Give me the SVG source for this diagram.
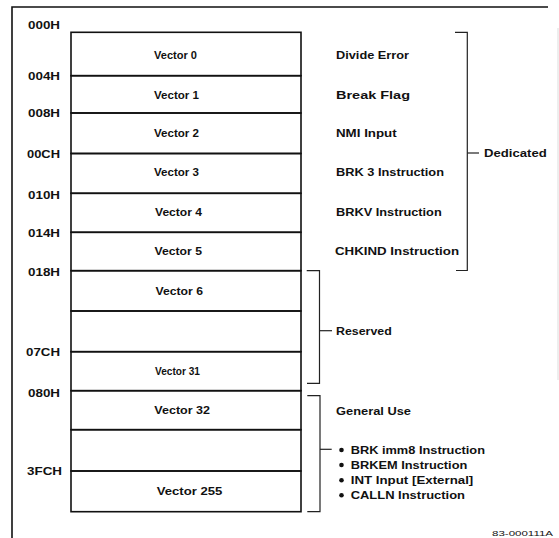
<svg xmlns="http://www.w3.org/2000/svg" width="559" height="538" viewBox="0 0 559 538">
<style>
text{font-family:"Liberation Sans",Arial,sans-serif;font-weight:bold;fill:#111;font-size:10.5px}
.addr{text-anchor:start}
.row{fill:none;stroke:#111;stroke-width:1.6}
.br{fill:none;stroke:#222;stroke-width:1.2}
.frame{fill:none;stroke:#111;stroke-width:1.6}
.id{font-weight:normal;font-size:8px}
</style>
<rect width="559" height="538" fill="#fff"/>
<g id="frame">
<polyline class="frame" points="12,538 12,7 548,7"/>
<line x1="558" y1="28" x2="558" y2="380" stroke="#ddd" stroke-width="1"/>
</g>
<g id="addresses">
<text x="28" y="29" textLength="32" lengthAdjust="spacingAndGlyphs">000H</text>
<text x="28" y="79.5" textLength="32" lengthAdjust="spacingAndGlyphs">004H</text>
<text x="28" y="117" textLength="32" lengthAdjust="spacingAndGlyphs">008H</text>
<text x="27" y="157.5" textLength="33" lengthAdjust="spacingAndGlyphs">00CH</text>
<text x="28" y="198.5" textLength="32" lengthAdjust="spacingAndGlyphs">010H</text>
<text x="28" y="236.5" textLength="32" lengthAdjust="spacingAndGlyphs">014H</text>
<text x="28" y="276" textLength="32" lengthAdjust="spacingAndGlyphs">018H</text>
<text x="26" y="355.5" textLength="34" lengthAdjust="spacingAndGlyphs">07CH</text>
<text x="28" y="396.5" textLength="32" lengthAdjust="spacingAndGlyphs">080H</text>
<text x="27" y="474.5" textLength="35" lengthAdjust="spacingAndGlyphs">3FCH</text>
</g>
<g id="row0"><rect class="row" x="71" y="32.3" width="230" height="43.4"/><text x="154" y="59" textLength="43" lengthAdjust="spacingAndGlyphs">Vector 0</text></g>
<g id="row1"><rect class="row" x="71" y="75.7" width="230" height="37.3"/><text x="154" y="99.3" textLength="45" lengthAdjust="spacingAndGlyphs">Vector 1</text></g>
<g id="row2"><rect class="row" x="71" y="113" width="230" height="40.5"/><text x="154" y="136.7" textLength="45" lengthAdjust="spacingAndGlyphs">Vector 2</text></g>
<g id="row3"><rect class="row" x="71" y="153.5" width="230" height="39.8"/><text x="154" y="175.7" textLength="45" lengthAdjust="spacingAndGlyphs">Vector 3</text></g>
<g id="row4"><rect class="row" x="71" y="193.3" width="230" height="39"/><text x="155" y="216" textLength="47" lengthAdjust="spacingAndGlyphs">Vector 4</text></g>
<g id="row5"><rect class="row" x="71" y="232.3" width="230" height="38.4"/><text x="154.5" y="255" textLength="47.5" lengthAdjust="spacingAndGlyphs">Vector 5</text></g>
<g id="row6"><rect class="row" x="71" y="270.7" width="230" height="40.3"/><text x="155.5" y="295" textLength="47.5" lengthAdjust="spacingAndGlyphs">Vector 6</text></g>
<g id="row7"><rect class="row" x="71" y="311" width="230" height="40.7"/></g>
<g id="row8"><rect class="row" x="71" y="351.7" width="230" height="39"/><text x="155" y="375" textLength="45" lengthAdjust="spacingAndGlyphs">Vector 31</text></g>
<g id="row9"><rect class="row" x="71" y="390.7" width="230" height="39"/><text x="154.3" y="414" textLength="55.7" lengthAdjust="spacingAndGlyphs">Vector 32</text></g>
<g id="row10"><rect class="row" x="71" y="429.7" width="230" height="41.3"/></g>
<g id="row11"><rect class="row" x="71" y="471" width="230" height="40.7"/><text x="156.7" y="495" textLength="65.6" lengthAdjust="spacingAndGlyphs">Vector 255</text></g>
<g id="descriptions">
<text x="336" y="58.5" textLength="73" lengthAdjust="spacingAndGlyphs">Divide Error</text>
<text x="336" y="99" textLength="74" lengthAdjust="spacingAndGlyphs">Break Flag</text>
<text x="336" y="136.7" textLength="60.7" lengthAdjust="spacingAndGlyphs">NMI Input</text>
<text x="336" y="176" textLength="108" lengthAdjust="spacingAndGlyphs">BRK 3 Instruction</text>
<text x="336" y="216" textLength="105.7" lengthAdjust="spacingAndGlyphs">BRKV Instruction</text>
<text x="335" y="255" textLength="124" lengthAdjust="spacingAndGlyphs">CHKIND Instruction</text>
</g>
<g id="connectors">
<polyline class="br" points="455,32.3 467.3,32.3 467.3,270.5 456,270.5"/>
<line class="br" x1="467.3" y1="153" x2="479" y2="153"/>
<polyline class="br" points="306.7,270.7 319.5,270.7 319.5,383.3 307,383.3"/>
<line class="br" x1="319.5" y1="330.7" x2="332" y2="330.7"/>
<polyline class="br" points="307.3,395.7 320,395.7 320,511.7 307.3,511.7"/>
<line class="br" x1="320" y1="449.3" x2="331.7" y2="449.3"/>
</g>
<g id="dedicated"><text x="484" y="156.5" textLength="62.7" lengthAdjust="spacingAndGlyphs">Dedicated</text></g>
<g id="reserved"><text x="336" y="335" textLength="55.7" lengthAdjust="spacingAndGlyphs">Reserved</text></g>
<g id="general-use">
<text x="336" y="414.5" textLength="75" lengthAdjust="spacingAndGlyphs">General Use</text>
<circle cx="341.5" cy="450" r="2.3" fill="#111"/>
<circle cx="341.5" cy="465" r="2.3" fill="#111"/>
<circle cx="341.5" cy="480.3" r="2.3" fill="#111"/>
<circle cx="341.5" cy="495.3" r="2.3" fill="#111"/>
<text x="350.7" y="454" textLength="134.3" lengthAdjust="spacingAndGlyphs">BRK imm8 Instruction</text>
<text x="350.7" y="469" textLength="116.6" lengthAdjust="spacingAndGlyphs">BRKEM Instruction</text>
<text x="350.7" y="484.3" textLength="122.6" lengthAdjust="spacingAndGlyphs">INT Input [External]</text>
<text x="350.7" y="499.3" textLength="114.3" lengthAdjust="spacingAndGlyphs">CALLN Instruction</text>
</g>
<text class="id" x="492" y="535.5" textLength="61" lengthAdjust="spacingAndGlyphs">83-000111A</text>
</svg>
